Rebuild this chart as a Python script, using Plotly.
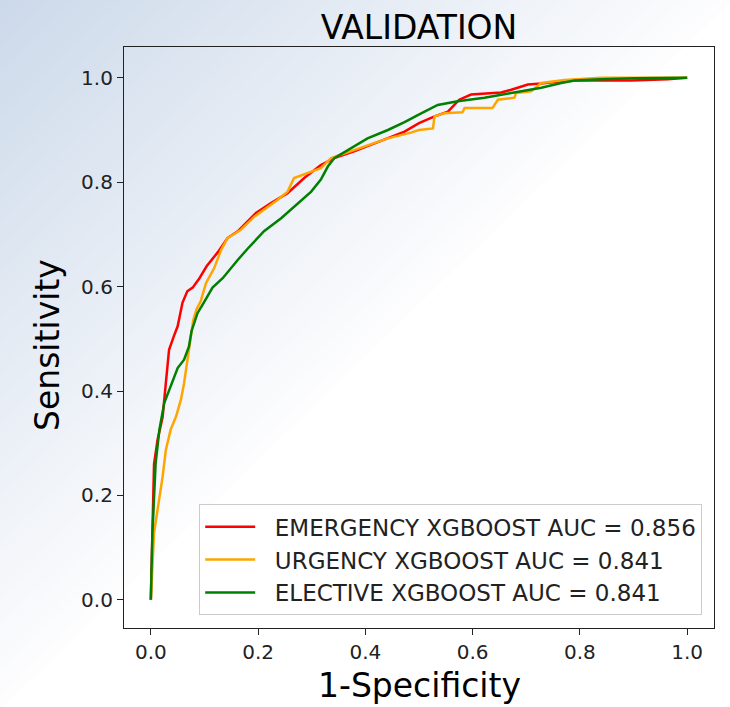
import plotly.graph_objects as go

# ---------------- data ----------------
emergency_fpr = [0, 0.003, 0.006, 0.0125, 0.022, 0.028, 0.034, 0.043, 0.05, 0.059, 0.068, 0.078, 0.09,
                 0.104, 0.125, 0.143, 0.162, 0.196, 0.224, 0.255, 0.286, 0.317, 0.342, 0.379, 0.41,
                 0.442, 0.473, 0.5, 0.529, 0.554, 0.575, 0.597, 0.653, 0.672, 0.703, 0.728, 0.777,
                 0.84, 0.896, 0.964, 1.0]
emergency_tpr = [0, 0.16, 0.26, 0.306, 0.35, 0.415, 0.479, 0.505, 0.524, 0.569, 0.591, 0.598, 0.615,
                 0.639, 0.666, 0.693, 0.706, 0.741, 0.760, 0.779, 0.808, 0.833, 0.846, 0.859, 0.872,
                 0.884, 0.897, 0.913, 0.926, 0.935, 0.958, 0.968, 0.972, 0.977, 0.987, 0.989, 0.995,
                 0.995, 0.995, 0.997, 1.0]

urgency_fpr = [0, 0.006, 0.0125, 0.022, 0.028, 0.037, 0.047, 0.056, 0.062, 0.068, 0.075, 0.079, 0.085,
               0.093, 0.103, 0.118, 0.131, 0.143, 0.168, 0.193, 0.236, 0.255, 0.267, 0.292, 0.317,
               0.336, 0.379, 0.442, 0.485, 0.5, 0.526, 0.529, 0.547, 0.581, 0.585, 0.637, 0.647,
               0.678, 0.681, 0.709, 0.728, 0.771, 0.84, 1.0]
urgency_tpr = [0, 0.128, 0.172, 0.236, 0.287, 0.326, 0.351, 0.383, 0.415, 0.46, 0.511, 0.535, 0.556,
               0.572, 0.607, 0.635, 0.67, 0.693, 0.709, 0.734, 0.766, 0.782, 0.808, 0.817, 0.827,
               0.846, 0.862, 0.884, 0.895, 0.900, 0.903, 0.926, 0.932, 0.934, 0.942, 0.942, 0.958,
               0.962, 0.971, 0.974, 0.990, 0.996, 1.0, 1.0]

elective_fpr = [0, 0.003, 0.009, 0.016, 0.025, 0.034, 0.043, 0.05, 0.062, 0.071, 0.076, 0.087, 0.098,
                0.115, 0.134, 0.15, 0.162, 0.18, 0.211, 0.243, 0.274, 0.299, 0.317, 0.33, 0.342,
                0.379, 0.404, 0.442, 0.473, 0.504, 0.535, 0.572, 0.622, 0.672, 0.728, 0.765, 0.79,
                0.84, 0.902, 1.0]
elective_tpr = [0, 0.128, 0.262, 0.326, 0.377, 0.402, 0.428, 0.444, 0.46, 0.485, 0.515, 0.549, 0.568,
                0.598, 0.616, 0.637, 0.651, 0.672, 0.706, 0.731, 0.760, 0.782, 0.805, 0.83, 0.846,
                0.868, 0.884, 0.900, 0.915, 0.932, 0.948, 0.955, 0.962, 0.971, 0.981, 0.990, 0.995,
                0.997, 0.999, 1.0]

series_names = ["EMERGENCY XGBOOST AUC = 0.856",
                "URGENCY XGBOOST AUC = 0.841",
                "ELECTIVE XGBOOST AUC = 0.841"]
series_colors = ["#ff0000", "#ffa500", "#008000"]

tick_vals = [0.0, 0.2, 0.4, 0.6, 0.8, 1.0]
tick_text = ["0.0", "0.2", "0.4", "0.6", "0.8", "1.0"]

# ---------------- figure ----------------
W, H = 730, 707
ML, MR, MT, MB = 124, 16, 47, 79
PW, PH = W - ML - MR, H - MT - MB

fig = go.Figure()
for fx, ty, name, col in zip([emergency_fpr, urgency_fpr, elective_fpr],
                             [emergency_tpr, urgency_tpr, elective_tpr],
                             series_names, series_colors):
    fig.add_trace(go.Scatter(x=fx, y=ty, mode="lines", name="\u00a0\u00a0" + name,
                             line=dict(color=col, width=2.5)))

# background diagonal gradient (decoration)
def px2paper(px, py):
    return (px - ML) / PW, (H - MB - py) / PH

c0 = (204, 217, 234)
c1 = (253, 253, 254)
N = 60
shapes = []
for k in range(N):
    t0 = k / N
    t1 = (k + 1) / N + 0.004
    s = (k + 0.5) / N
    col = tuple(int(round(a + (b - a) * s)) for a, b in zip(c0, c1))
    pts = [(t0 * W, 0), (t1 * W, 0), (0, t1 * H), (0, t0 * H)]
    pp = [px2paper(x, y) for x, y in pts]
    path = "M " + " L ".join(f"{x:.5f},{y:.5f}" for x, y in pp) + " Z"
    shapes.append(dict(type="path", xref="paper", yref="paper", path=path,
                       fillcolor=f"rgb{col}", line=dict(width=0), layer="below"))

axis_common = dict(showgrid=False, zeroline=False, showline=True, linecolor="#222222",
                   linewidth=1.2, mirror=True, ticks="outside", ticklen=6, tickwidth=1.2,
                   tickcolor="#222222", tickvals=tick_vals, ticktext=tick_text,
                   tickfont=dict(family="DejaVu Sans", size=20, color="#222222"))

fig.update_layout(
    width=W, height=H,
    margin=dict(l=ML, r=MR, t=MT, b=MB, pad=0),
    paper_bgcolor="white", plot_bgcolor="white",
    shapes=shapes,
    title=dict(text="VALIDATION", x=(PW / 2 + ML) / W, xanchor="center",
               y=1 - 27 / H, yanchor="middle", yref="container",
               font=dict(family="DejaVu Sans", size=33, color="black")),
    xaxis=dict(range=[-0.05, 1.05], **axis_common),
    yaxis=dict(range=[-0.054, 1.059], **axis_common),
    showlegend=True,
    legend=dict(x=0.98, y=0.022, xanchor="right", yanchor="bottom",
                bgcolor="rgba(255,255,255,0.85)", bordercolor="#cccccc", borderwidth=1,
                font=dict(family="DejaVu Sans", size=23, color="#222222"),
                itemwidth=50),
    annotations=[
        dict(text="1-Specificity", xref="paper", yref="paper", x=0.5,
             y=(H - MB - 685) / PH, xanchor="center", yanchor="middle", showarrow=False,
             font=dict(family="DejaVu Sans", size=33, color="black")),
        dict(text="Sensitivity", xref="paper", yref="paper", x=(47 - ML) / PW,
             y=(H - MB - 345) / PH, xanchor="center", yanchor="middle", showarrow=False,
             textangle=-90, font=dict(family="DejaVu Sans", size=33, color="black")),
    ],
)

fig.write_html("out.html", config={"displayModeBar": False},
               post_script="document.body.style.margin='0';document.body.style.padding='0';")
